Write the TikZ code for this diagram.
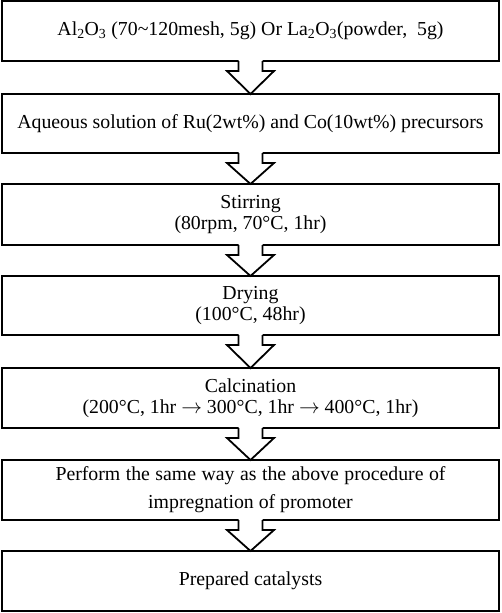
\documentclass[tikz,border=0pt]{standalone}
\usepackage{fontspec}
\setmainfont{Liberation Serif}
\usetikzlibrary{calc}
\newcommand{\blockarr}[2]{%
  \fill[white] ($(#1.south)+(-12,-1.5)$) -- ($(#1.south)+(-12,10)$) -- ($(#1.south)+(-23.5,10)$) -- (#2.north) -- ($(#1.south)+(23.5,10)$) -- ($(#1.south)+(12,10)$) -- ($(#1.south)+(12,-1.5)$) -- cycle;
  \draw[barrowline] ($(#1.south)+(-12,0)$) -- ($(#1.south)+(-12,10)$) -- ($(#1.south)+(-23.5,10)$) -- (#2.north) -- ($(#1.south)+(23.5,10)$) -- ($(#1.south)+(12,10)$) -- ($(#1.south)+(12,0)$);}
\newcommand{\longar}{ $\rightarrow$ }
\begin{document}
\begin{tikzpicture}[x=1pt,y=-1pt,
  stepbox/.style={draw, line width=1.8pt, minimum width=497pt, inner sep=0pt, outer sep=0pt, align=center, font=\fontsize{19.8}{21}\selectfont, fill=white},
  barrowline/.style={line width=1.8pt, line join=miter}]
\useasboundingbox (0,0) rectangle (501,613);
\node[stepbox, minimum height=60pt] (b1) at (250.5,31) {Al\textsubscript{2}O\textsubscript{3} (70\textasciitilde120mesh, 5g) Or La\textsubscript{2}O\textsubscript{3}(powder,\ \ 5g)};
\node[stepbox, minimum height=59pt] (b2) at (250.5,123.5) {Aqueous solution of Ru(2wt\%) and Co(10wt\%) precursors};
\node[stepbox, minimum height=61pt] (b3) at (250.5,214.5) {Stirring\\(80rpm, 70°C, 1hr)};
\node[stepbox, minimum height=59pt] (b4) at (250.5,305.5) {Drying\\(100°C, 48hr)};
\node[stepbox, minimum height=60pt] (b5) at (250.5,398) {Calcination\\(200°C, 1hr\longar300°C, 1hr\longar400°C, 1hr)};
\node[stepbox, minimum height=60pt, font=\fontsize{19.8}{28}\selectfont] (b6) at (250.5,490) {\makebox[390pt][s]{Perform the same way as the above procedure of}\\impregnation of promoter};
\node[stepbox, minimum height=60pt] (b7) at (250.5,581) {Prepared catalysts};
\blockarr{b1}{b2}
\blockarr{b2}{b3}
\blockarr{b3}{b4}
\blockarr{b4}{b5}
\blockarr{b5}{b6}
\blockarr{b6}{b7}
\end{tikzpicture}
\end{document}
